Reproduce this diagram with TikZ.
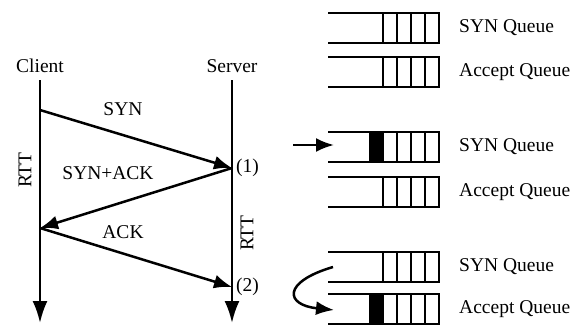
\documentclass[tikz,border=0pt]{standalone}
\usepackage{fontspec}
\setmainfont{Liberation Serif}
\usetikzlibrary{arrows.meta}

\tikzset{
  msg/.style={line width=2.5pt,-{Latex[length=18pt,width=14pt]}},
  timeline/.style={line width=2.5pt,-{Latex[length=22pt,width=15pt]}},
  qline/.style={line width=2.2pt},
  qlabel/.style={anchor=west,inner sep=0pt},
}

\begin{document}
\begin{tikzpicture}[x=1pt,y=-1pt,font=\fontsize{19.5}{23}\selectfont]
        \useasboundingbox (0,0) rectangle (580,325);
        % client and server time lines
        \node (client) at (40,66) {Client};
        \node (server) at (232,66) {Server};
        \coordinate (ctop) at (40,80);
        \coordinate (cbot) at (40,323);
        \coordinate (stop) at (232,80);
        \coordinate (sbot) at (232,323);
        \draw[timeline] (ctop) -- (cbot);
        \draw[timeline] (stop) -- (sbot);
        % handshake
        \coordinate (c1) at (40,110);
        \coordinate (s1) at (232,168);
        \coordinate (c2) at (40,228);
        \coordinate (s2) at (232,287);
        \draw[msg] (c1) -- (s1);
        \draw[msg] (s1) -- (c2);
        \draw[msg] (c2) -- (s2);
        \node (syn) at (123,109) {SYN};
        \node (synack) at (108,173) {SYN+ACK};
        \node (ack) at (123,232) {ACK};
        \node[anchor=west,inner sep=0pt] (one) at (236,168) {(1)};
        \node[anchor=west,inner sep=0pt] (two) at (236,287) {(2)};
        \node[rotate=90] (rttc) at (25,170) {RTT};
        \node[rotate=90] (rtts) at (247,233) {RTT};
        % queues
        \foreach \top/\name/\txt in {13/q1/SYN Queue,57/q2/Accept Queue,132/q3/SYN Queue,177/q4/Accept Queue,252/q5/SYN Queue,294/q6/Accept Queue} {
            \draw[qline] (328,\top) -- (439,\top) -- (439,{\top+30}) -- (328,{\top+30});
            \foreach \x in {383,397,411,425}
                \draw[qline] (\x,\top) -- (\x,{\top+30});
            \node[qlabel] (\name) at (459,{\top+15}) {\txt};
        }
        \fill (369,132) rectangle (383,162);
        \fill (369,294) rectangle (383,324);
        % new connection and move to accept queue
        \coordinate (in1) at (293,145);
        \coordinate (in2) at (334,145);
        \draw[msg] (in1) -- (in2);
        \coordinate (mv1) at (333,267);
        \coordinate (mv2) at (334,310);
        \draw[msg] (mv1) .. controls (282,282) and (285,305) .. (mv2);
    \end{tikzpicture}
\end{document}
